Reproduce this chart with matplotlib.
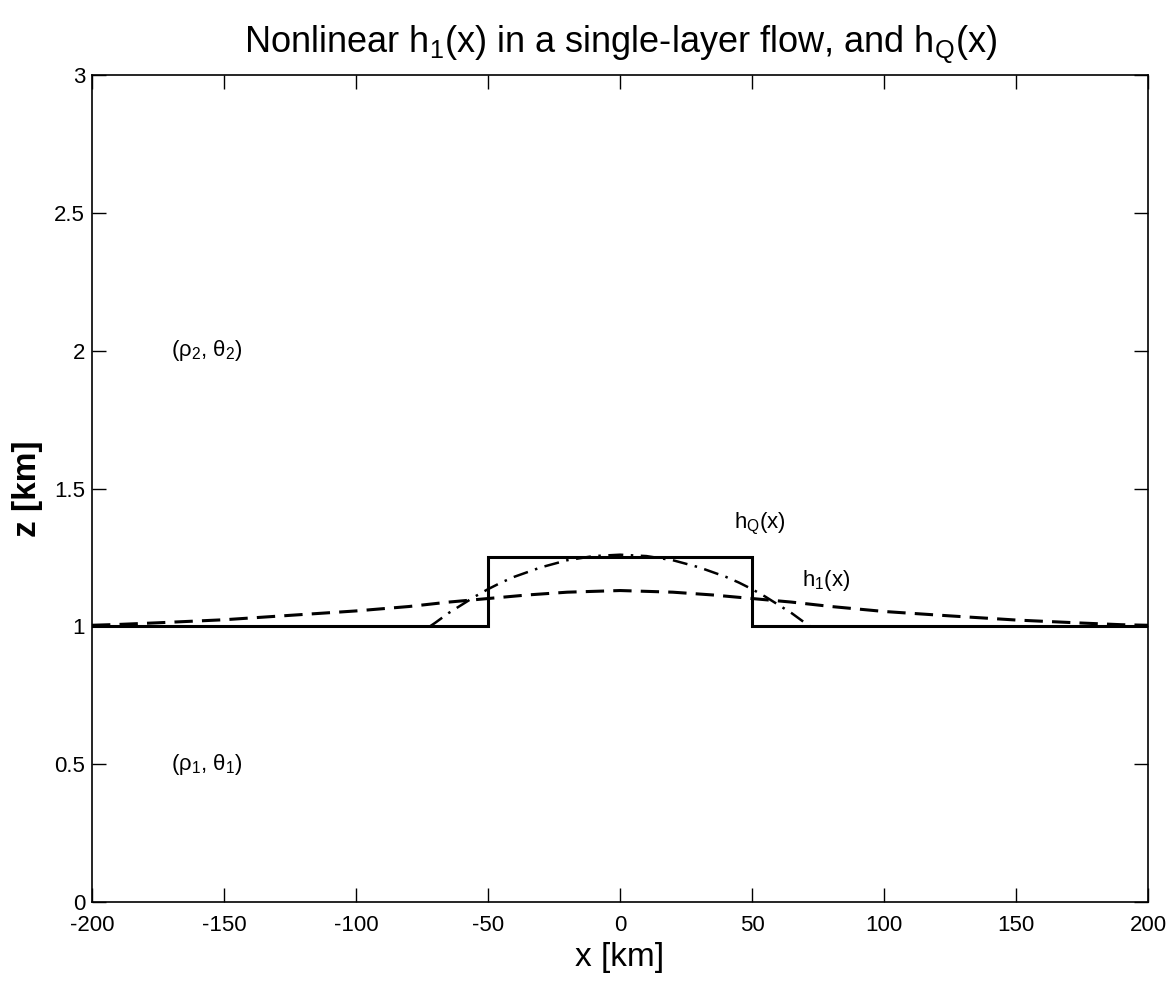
import matplotlib
matplotlib.use("Agg")
import matplotlib.pyplot as plt

plt.rcParams['font.family'] = ['Liberation Sans', 'DejaVu Sans']
plt.rcParams['mathtext.fontset'] = 'custom'
plt.rcParams['mathtext.rm'] = 'Liberation Sans'
plt.rcParams['mathtext.it'] = 'Liberation Sans'

# Solid step (mountain / reference layer)
x_step = [-200, -50, -50, 50, 50, 200]
z_step = [1.0, 1.0, 1.25, 1.25, 1.0, 1.0]

# Dashed: nonlinear h1(x)
x_h1 = [-200, -190, -175, -150, -125, -100, -80, -65, -50, -35, -20, 0,
        20, 35, 50, 65, 80, 100, 125, 150, 175, 190, 200]
h1 = [1.004, 1.007, 1.013, 1.024, 1.040, 1.056, 1.072, 1.088, 1.101, 1.114, 1.124, 1.130,
      1.124, 1.114, 1.101, 1.088, 1.072, 1.054, 1.038, 1.023, 1.012, 1.006, 1.004]

# Dash-dot: hQ(x)
x_hQ = [-72, -70, -65, -60, -55, -50, -45, -40, -30, -20, -10, 0,
        10, 20, 30, 40, 45, 50, 55, 60, 65, 70, 72]
hQ = [1.000, 1.013, 1.048, 1.078, 1.108, 1.135, 1.159, 1.180, 1.214, 1.240, 1.255, 1.260,
      1.255, 1.240, 1.214, 1.180, 1.159, 1.135, 1.108, 1.078, 1.048, 1.013, 1.000]

x_ticks = [-200, -150, -100, -50, 0, 50, 100, 150, 200]
y_ticks = [0, 0.5, 1, 1.5, 2, 2.5, 3]
y_ticklabels = ['0', '0.5', '1', '1.5', '2', '2.5', '3']

fig = plt.figure(figsize=(11.68, 9.81), dpi=100)
ax = fig.add_axes([0.0788, 0.0805, 0.9041, 0.843])

ax.plot(x_step, z_step, color='black', linewidth=2.2, solid_joinstyle='miter')
ax.plot(x_h1, h1, color='black', linewidth=2.2, linestyle=(0, (6, 3)))
ax.plot(x_hQ, hQ, color='black', linewidth=1.8, linestyle=(0, (6, 3, 1, 3)))

sub = dict(fontsize=16, va='center', ha='left')
ax.text(-170, 2.0, r'($\rho_{2}$, $\theta_{2}$)', **sub)
ax.text(-170, 0.5, r'($\rho_{1}$, $\theta_{1}$)', **sub)
ax.text(43, 1.37, r'h$_{Q}$(x)', **sub)
ax.text(69, 1.165, r'h$_{1}$(x)', **sub)

ax.set_xlim(-200, 200)
ax.set_ylim(0, 3)
ax.set_xticks(x_ticks)
ax.set_xticklabels([str(v) for v in x_ticks])
ax.set_yticks(y_ticks)
ax.set_yticklabels(y_ticklabels)
ax.tick_params(direction='in', length=10, width=1, top=True, right=True, labelsize=16)
ax.tick_params(axis='x', pad=9)
ax.tick_params(axis='y', pad=5)
for s in ax.spines.values():
    s.set_linewidth(1.2)

ax.set_xlabel('x [km]', fontsize=24, labelpad=5)
ax.set_ylabel('z [km]', fontsize=24, fontweight='bold', labelpad=8)
ax.set_title(r'Nonlinear h$_{1}$(x) in a single-layer flow, and h$_{Q}$(x)',
             fontsize=26, pad=16)

fig.savefig('out.png', dpi=100)
